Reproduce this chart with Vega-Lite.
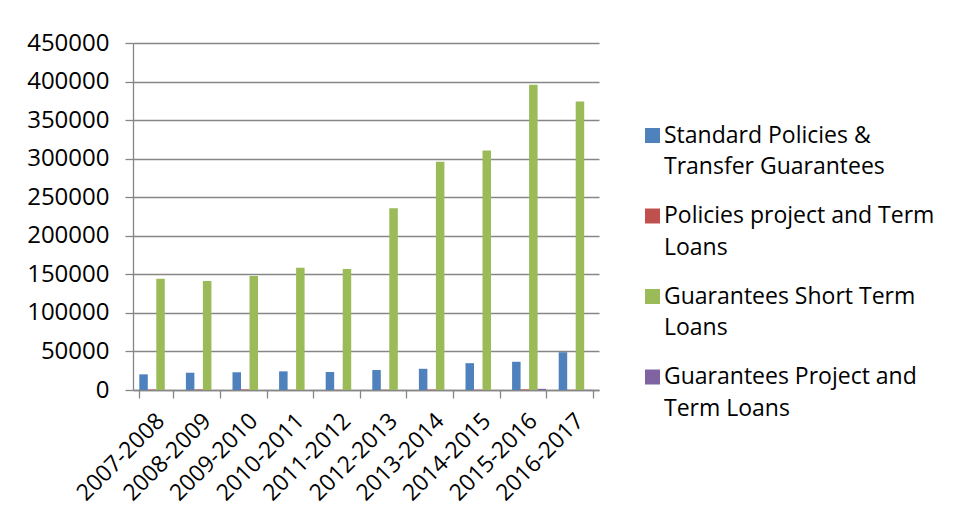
{
  "$schema": "https://vega.github.io/schema/vega-lite/v6.json",
  "autosize": "none",
  "width": 466,
  "height": 347,
  "padding": {"left": 133, "top": 43, "right": 356, "bottom": 134},
  "background": "white",
  "data": {
    "values": [
      {"year": "2007-2008", "series": "Standard Policies & Transfer Guarantees", "value": 20300},
      {"year": "2007-2008", "series": "Policies project  and Term Loans", "value": 600},
      {"year": "2007-2008", "series": "Guarantees Short  Term Loans", "value": 144300},
      {"year": "2007-2008", "series": "Guarantees Project  and Term Loans", "value": 0},
      {"year": "2008-2009", "series": "Standard Policies & Transfer Guarantees", "value": 22400},
      {"year": "2008-2009", "series": "Policies project  and Term Loans", "value": 700},
      {"year": "2008-2009", "series": "Guarantees Short  Term Loans", "value": 141400},
      {"year": "2008-2009", "series": "Guarantees Project  and Term Loans", "value": 0},
      {"year": "2009-2010", "series": "Standard Policies & Transfer Guarantees", "value": 23000},
      {"year": "2009-2010", "series": "Policies project  and Term Loans", "value": 700},
      {"year": "2009-2010", "series": "Guarantees Short  Term Loans", "value": 147800},
      {"year": "2009-2010", "series": "Guarantees Project  and Term Loans", "value": 0},
      {"year": "2010-2011", "series": "Standard Policies & Transfer Guarantees", "value": 24200},
      {"year": "2010-2011", "series": "Policies project  and Term Loans", "value": 300},
      {"year": "2010-2011", "series": "Guarantees Short  Term Loans", "value": 158600},
      {"year": "2010-2011", "series": "Guarantees Project  and Term Loans", "value": 0},
      {"year": "2011-2012", "series": "Standard Policies & Transfer Guarantees", "value": 23300},
      {"year": "2011-2012", "series": "Policies project  and Term Loans", "value": 300},
      {"year": "2011-2012", "series": "Guarantees Short  Term Loans", "value": 156900},
      {"year": "2011-2012", "series": "Guarantees Project  and Term Loans", "value": 0},
      {"year": "2012-2013", "series": "Standard Policies & Transfer Guarantees", "value": 25900},
      {"year": "2012-2013", "series": "Policies project  and Term Loans", "value": 300},
      {"year": "2012-2013", "series": "Guarantees Short  Term Loans", "value": 235800},
      {"year": "2012-2013", "series": "Guarantees Project  and Term Loans", "value": 0},
      {"year": "2013-2014", "series": "Standard Policies & Transfer Guarantees", "value": 27500},
      {"year": "2013-2014", "series": "Policies project  and Term Loans", "value": 600},
      {"year": "2013-2014", "series": "Guarantees Short  Term Loans", "value": 296000},
      {"year": "2013-2014", "series": "Guarantees Project  and Term Loans", "value": 0},
      {"year": "2014-2015", "series": "Standard Policies & Transfer Guarantees", "value": 34800},
      {"year": "2014-2015", "series": "Policies project  and Term Loans", "value": 400},
      {"year": "2014-2015", "series": "Guarantees Short  Term Loans", "value": 310600},
      {"year": "2014-2015", "series": "Guarantees Project  and Term Loans", "value": 0},
      {"year": "2015-2016", "series": "Standard Policies & Transfer Guarantees", "value": 36600},
      {"year": "2015-2016", "series": "Policies project  and Term Loans", "value": 800},
      {"year": "2015-2016", "series": "Guarantees Short  Term Loans", "value": 395800},
      {"year": "2015-2016", "series": "Guarantees Project  and Term Loans", "value": 1500},
      {"year": "2016-2017", "series": "Standard Policies & Transfer Guarantees", "value": 49000},
      {"year": "2016-2017", "series": "Policies project  and Term Loans", "value": 300},
      {"year": "2016-2017", "series": "Guarantees Short  Term Loans", "value": 374100},
      {"year": "2016-2017", "series": "Guarantees Project  and Term Loans", "value": 300}
    ]
  },
  "mark": {"type": "bar", "stroke": null},
  "encoding": {
    "x": {
      "field": "year", "type": "nominal", "sort": null,
      "scale": {"paddingInner": 0.27, "paddingOuter": 0.135},
      "axis": {
        "title": null, "labelAngle": -45, "labelAlign": "right", "labelBaseline": "middle",
        "labelFont": "Open Sans", "labelFontSize": 23, "labelColor": "black",
        "labelPadding": 19, "labelOffset": 4, "tickBand": "extent", "tickSize": 8, "tickColor": "#868686",
        "domainColor": "#868686", "domainWidth": 1.3, "tickWidth": 1.3, "grid": false
      }
    },
    "xOffset": {
      "field": "series", "type": "nominal",
      "scale": {"domain": ["Standard Policies & Transfer Guarantees", "Policies project  and Term Loans", "Guarantees Short  Term Loans", "Guarantees Project  and Term Loans"], "paddingInner": 0, "paddingOuter": 0}
    },
    "y": {
      "field": "value", "type": "quantitative",
      "scale": {"domain": [0, 450000], "nice": false},
      "axis": {
        "title": null, "values": [0, 50000, 100000, 150000, 200000, 250000, 300000, 350000, 400000, 450000],
        "format": "d", "labelFont": "Open Sans", "labelFontSize": 24, "labelColor": "black",
        "labelPadding": 16, "tickSize": 8, "tickColor": "#868686", "tickWidth": 1.3,
        "domainColor": "#868686", "domainWidth": 1.3,
        "grid": true, "gridColor": "#868686", "gridWidth": 1.3
      }
    },
    "color": {
      "field": "series", "type": "nominal",
      "scale": {
        "domain": ["Standard Policies & Transfer Guarantees", "Policies project  and Term Loans", "Guarantees Short  Term Loans", "Guarantees Project  and Term Loans"],
        "range": ["#4F81BD", "#C0504D", "#9BBB59", "#8064A2"]
      },
      "legend": {
        "title": null, "orient": "none", "legendX": 508, "legendY": 81, "padding": 0,
        "symbolType": "square", "symbolSize": 225, "symbolStrokeWidth": 0,
        "labelFont": "Open Sans", "labelFontSize": 23, "labelColor": "black",
        "labelLimit": 400, "rowPadding": 25.5, "labelOffset": 0,
        "labelExpr": "datum.label == 'Standard Policies & Transfer Guarantees' ? ['Standard Policies &', 'Transfer Guarantees'] : datum.label == 'Policies project  and Term Loans' ? ['Policies project  and Term', 'Loans'] : datum.label == 'Guarantees Short  Term Loans' ? ['Guarantees Short  Term', 'Loans'] : ['Guarantees Project  and', 'Term Loans']"
      }
    }
  },
  "config": {"view": {"stroke": null}, "style": {"guide-label": {"lineHeight": 31.5}}}
}
